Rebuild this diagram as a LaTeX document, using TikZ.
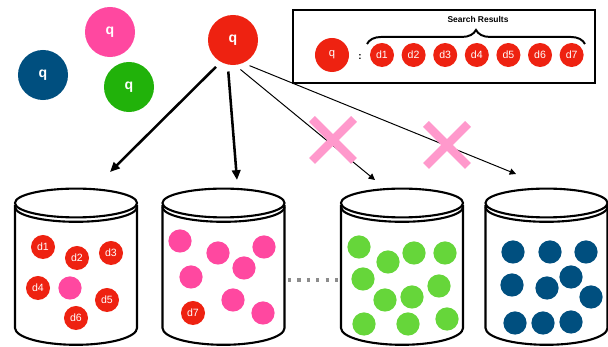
\documentclass[tikz,border=0pt]{standalone}
\usepackage{fontspec}
\setmainfont{Liberation Sans}
\usepackage{tikz}
\usetikzlibrary{arrows.meta,positioning,decorations.pathreplacing}
\definecolor{qred}{RGB}{238,34,17}
\definecolor{qpink}{RGB}{255,72,160}
\definecolor{qgreen}{RGB}{33,178,10}
\definecolor{ballgreen}{RGB}{102,214,58}
\definecolor{qnavy}{RGB}{0,79,127}
\definecolor{crosspink}{RGB}{255,153,204}
\tikzset{
    query/.style={
           circle,
           inner sep=0pt,
           minimum size=1.25cm,
           text=white,
           font=\bfseries\fontsize{10}{12}\selectfont,
           },
}
\tikzset{
    doc/.style={
           circle,
           inner sep=0pt,
           minimum size=0.6cm,
           fill=qred,
           text=white,
           font=\fontsize{7.5}{9}\selectfont,
           },
}
\tikzset{
    ball/.style={
           circle,
           inner sep=0pt,
           minimum size=0.58cm,
           },
}
\tikzset{
    canline/.style={
           draw=black,
           line width=1.5pt,
           },
}
\tikzset{
    hit/.style={
           -{Triangle[length=7pt,width=6pt]},
           line width=1.8pt,
           shorten <=0.17cm,
           },
}
\tikzset{
    miss/.style={
           -{Triangle[length=4.5pt,width=4.5pt]},
           line width=0.7pt,
           shorten <=0.17cm,
           },
}
% one bucket, centred at x = #1
\newcommand{\bucket}[1]{
  \draw[canline] (#1-61,205) -- (#1-61,328)
    arc[start angle=180,end angle=360,x radius=1.525cm,y radius=0.42cm] -- (#1+61,205);
  \draw[canline,fill=white] (#1,203) ellipse[x radius=1.525cm,y radius=0.36cm];
  \draw[canline] (#1-61,207) arc[start angle=180,end angle=360,x radius=1.525cm,y radius=0.37cm];
}

\begin{document}
\begin{tikzpicture}[x=0.025cm,y=-0.025cm]
\useasboundingbox (0,0) rectangle (608,347);

% queries
\node[query,fill=qnavy](qa) at (43,75){q};
\node[query,fill=qpink](qb) at (110,32){q};
\node[query,fill=qgreen](qc) at (129,87){q};
\node[query,fill=qred](qmain) at (233,40){q};

% search results box
\draw[line width=1.8pt] (293,10) rectangle (595,83);
\node[font=\bfseries\fontsize{6}{7}\selectfont](title) at (478,19){Search Results};
\node[circle,inner sep=0pt,minimum size=0.85cm,fill=qred,text=white,
      font=\fontsize{8}{9}\selectfont](qres) at (332,55){q};
\node[font=\bfseries\fontsize{7}{8}\selectfont](colon) at (360,57){:};
\node[doc,node distance=0.79cm](r1) at (382,55){d1};
\node[doc,node distance=0.79cm,right of = r1](r2){d2};
\node[doc,node distance=0.79cm,right of = r2](r3){d3};
\node[doc,node distance=0.79cm,right of = r3](r4){d4};
\node[doc,node distance=0.79cm,right of = r4](r5){d5};
\node[doc,node distance=0.79cm,right of = r5](r6){d6};
\node[doc,node distance=0.79cm,right of = r6](r7){d7};
\coordinate (bl) at (367,44);
\coordinate (br) at (585,44);
\draw[line width=1.4pt,decorate,decoration={brace,amplitude=10pt}] (bl) -- (br);

% buckets
\bucket{76}
\bucket{223.5}
\bucket{402}
\bucket{546.5}

% bucket 1
\node[doc](b1d1) at (43,247){d1};
\node[doc](b1d2) at (77,258){d2};
\node[doc](b1d3) at (111,253){d3};
\node[doc](b1d4) at (38,288){d4};
\node[ball,fill=qpink](b1p) at (70,288){};
\node[doc](b1d5) at (107,300){d5};
\node[doc](b1d6) at (76,318){d6};

% bucket 2
\foreach \x/\y [count=\i] in {180/241,218/253,264/247,191/277,244/268,233/300,263/313}
  \node[ball,fill=qpink](b2p\i) at (\x,\y){};
\node[doc](b2d7) at (193,313){d7};

% bucket 3
\foreach \x/\y [count=\i] in {359/247,388/262,414/253,445/253,363/279,385/300,412/297,439/286,364/324,408/324,447/319}
  \node[ball,fill=ballgreen](b3p\i) at (\x,\y){};

% bucket 4
\foreach \x/\y [count=\i] in {513/252,550/252,586/252,512/285,547/288,571/277,591/297,515/323,543/323,571/322}
  \node[ball,fill=qnavy](b4p\i) at (\x,\y){};

% dots between buckets
\draw[gray!90,line width=2.2pt,dash pattern=on 2.2pt off 4.5pt] (288,280) -- (338,280);

% arrows
\coordinate (t1) at (110,172);
\coordinate (t2) at (237,180);
\coordinate (t3) at (375,180);
\coordinate (t4) at (516,174);
\draw[hit] (qmain.241) -- (t1);
\draw[hit] (qmain.258) -- (t2);
\draw[miss] (qmain.275) -- (t3);
\draw[miss] (qmain.294) -- (t4);

% crosses
\foreach \cx/\cy in {333/140,447/145}{
  \draw[crosspink,line width=6pt] (\cx-21,\cy-21) -- (\cx+21,\cy+21);
  \draw[crosspink,line width=6pt] (\cx-21,\cy+21) -- (\cx+21,\cy-21);
}
\end{tikzpicture}
\end{document}
